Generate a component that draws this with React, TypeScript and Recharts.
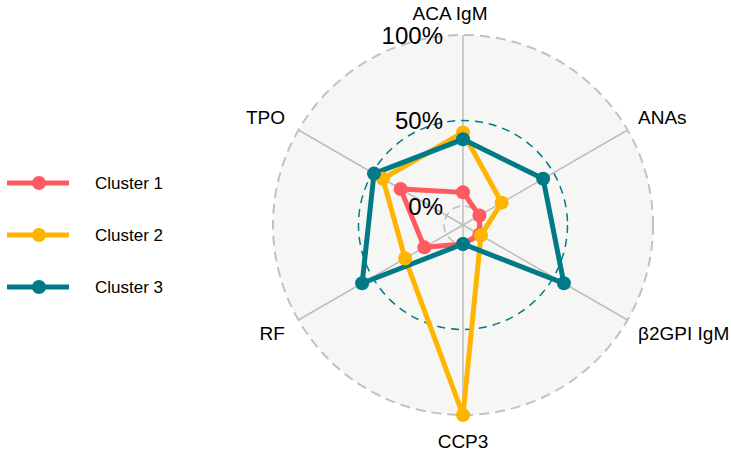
import {
  Legend,
  PolarAngleAxis,
  PolarGrid,
  PolarRadiusAxis,
  Radar,
  RadarChart,
} from "recharts";

const categories = ["ACA IgM", "ANAs", "β2GPI IgM", "CCP3", "RF", "TPO"];
const cluster1 = [0.08, 0.0, 0.0, 0.0, 0.15, 0.31];
const cluster2 = [0.43, 0.15, 0.01, 1.0, 0.28, 0.43];
const cluster3 = [0.39, 0.43, 0.57, 0.0, 0.57, 0.49];
const gridTicks = [0, 0.5, 1];

const SERIES = [
  { key: "c1", name: "Cluster 1", color: "#FF5A5F", values: cluster1 },
  { key: "c2", name: "Cluster 2", color: "#FFB400", values: cluster2 },
  { key: "c3", name: "Cluster 3", color: "#007A87", values: cluster3 },
];

const WIDTH = 731;
const HEIGHT = 452;
const CX = 463;
const CY = 225;
const R = 190;
// ggradar style: centre sits 1/9 of the range below the minimum
const MIN = -1 / 9;
const MAX = 1;
const FONT = '"Liberation Sans", Arial, Helvetica, sans-serif';
const RAD = Math.PI / 180;

const toRadius = (v: number) => ((v - MIN) / (MAX - MIN)) * R;

const data = categories.map((name, i) => {
  const row: Record<string, string | number> = { name };
  SERIES.forEach((s) => {
    row[s.key] = s.values[i];
  });
  return row;
});

function AngleTick(props: any) {
  const { payload } = props;
  const a = payload.coordinate;
  const cos = Math.cos(a * RAD);
  const sin = Math.sin(a * RAD);
  const labelR = 216;
  let x = CX + cos * labelR;
  let y = CY - sin * labelR;
  let anchor: "start" | "middle" | "end" = "middle";
  if (cos > 0.01) {
    anchor = "start";
    x -= 12;
  } else if (cos < -0.01) {
    anchor = "end";
    x += 9;
  } else if (sin > 0) {
    // top label sits a little left in the original
    x -= 13;
    y += 4;
  }
  return (
    <text
      x={x}
      y={y}
      textAnchor={anchor}
      dominantBaseline="central"
      fontSize={19}
      fontFamily={FONT}
      fill="#000"
    >
      {payload.value}
    </text>
  );
}

function RadiusTick(props: any) {
  const { x, y, payload } = props;
  return (
    <text
      x={x - 20}
      y={y}
      textAnchor="end"
      dominantBaseline="central"
      fontSize={24}
      fontFamily={FONT}
      fill="#000"
    >
      {`${Math.round(payload.value * 100)}%`}
    </text>
  );
}

function LegendContent() {
  return (
    <svg width={200} height={150}>
      {SERIES.map((s, i) => {
        const y = 23 + i * 52;
        return (
          <g key={s.key}>
            <line x1={7} x2={69} y1={y} y2={y} stroke={s.color} strokeWidth={5} />
            <circle cx={39} cy={y} r={7} fill={s.color} />
            <text
              x={95}
              y={y}
              dominantBaseline="central"
              fontSize={17}
              fontFamily={FONT}
              fill="#000"
            >
              {s.name}
            </text>
          </g>
        );
      })}
    </svg>
  );
}

export default function App() {
  return (
    <div
      style={{
        position: "absolute",
        left: 0,
        top: 0,
        width: WIDTH,
        height: HEIGHT,
        background: "#fff",
      }}
    >
      <div
        style={{
          position: "absolute",
          left: CX - R,
          top: CY - R,
          width: R * 2,
          height: R * 2,
          borderRadius: "50%",
          background: "#f6f6f5",
        }}
      />
      <RadarChart
        width={WIDTH}
        height={HEIGHT}
        data={data}
        cx={CX}
        cy={CY}
        outerRadius={R}
        margin={{ top: 0, right: 0, bottom: 0, left: 0 }}
        style={{ position: "absolute", left: 0, top: 0 }}
      >
        <PolarGrid
          gridType="circle"
          radialLines={true}
          polarRadius={[0]}
          stroke="#bdbdbd"
          strokeWidth={1.5}
        />
        <PolarGrid
          gridType="circle"
          radialLines={false}
          polarRadius={[toRadius(1)]}
          stroke="#c2c2c2"
          strokeWidth={2}
          strokeDasharray="10 6"
        />
        <PolarGrid
          gridType="circle"
          radialLines={false}
          polarRadius={[toRadius(0.5)]}
          stroke="#007A87"
          strokeWidth={1.5}
          strokeDasharray="8 6"
        />
        <PolarGrid
          gridType="circle"
          radialLines={false}
          polarRadius={[toRadius(0)]}
          stroke="#bdbdbd"
          strokeWidth={1.5}
          strokeDasharray="8 5"
        />
        <PolarAngleAxis
          dataKey="name"
          tick={<AngleTick />}
          tickLine={false}
          axisLine={false}
        />
        <PolarRadiusAxis
          angle={90}
          type="number"
          domain={[MIN, MAX]}
          ticks={gridTicks}
          tick={<RadiusTick />}
          axisLine={false}
          tickLine={false}
        />
        {SERIES.map((s) => (
          <Radar
            key={s.key}
            name={s.name}
            dataKey={s.key}
            stroke={s.color}
            strokeWidth={5}
            fill="none"
            fillOpacity={0}
            dot={{ r: 7, fill: s.color, stroke: "none", fillOpacity: 1 }}
            isAnimationActive={false}
          />
        ))}
        <Legend
          layout="vertical"
          align="left"
          verticalAlign="top"
          content={<LegendContent />}
          wrapperStyle={{ left: 0, top: 160, width: 200 }}
        />
      </RadarChart>
    </div>
  );
}
